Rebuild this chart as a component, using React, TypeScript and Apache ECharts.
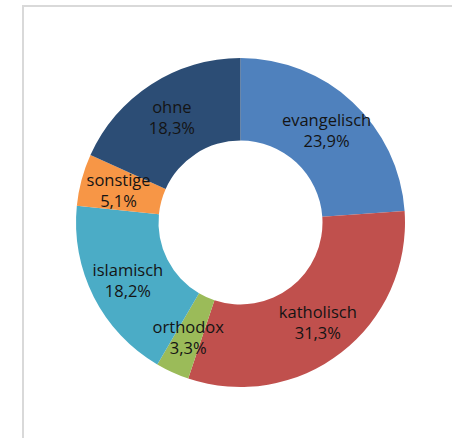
import React, { useEffect, useRef } from "react";
import * as echarts from "echarts";

const categories = ["evangelisch", "katholisch", "orthodox", "islamisch", "sonstige", "ohne"];
const values = [23.9, 31.3, 3.3, 18.2, 5.1, 18.3];
const colors = ["#4F81BD", "#C0504D", "#9BBB59", "#4BACC6", "#F79646", "#2C4D75"];

export default function App() {
  const ref = useRef<HTMLDivElement>(null);
  useEffect(() => {
    if (!ref.current) return;
    const chart = echarts.init(ref.current, null, { renderer: "svg" });
    chart.setOption({
      animation: false,
      backgroundColor: "#ffffff",
      graphic: [
        { type: "line", shape: { x1: 22, y1: 6, x2: 452, y2: 6 }, style: { stroke: "#d9d9d9", lineWidth: 2 } },
        { type: "line", shape: { x1: 23, y1: 5, x2: 23, y2: 438 }, style: { stroke: "#d9d9d9", lineWidth: 2 } },
      ],
      series: [
        {
          type: "pie",
          center: [240.5, 222.5],
          radius: [82, 164.5],
          startAngle: 90,
          clockwise: true,
          avoidLabelOverlap: false,
          itemStyle: { borderWidth: 0 },
          label: {
            show: true,
            position: "inside",
            color: "#141414",
            fontFamily: "Open Sans",
            fontSize: 16.5,
            lineHeight: 21,
            formatter: (p: any) => `${p.name}\n${p.value.toFixed(1).replace(".", ",")}%`,
          },
          labelLine: { show: false },
          data: categories.map((c, i) => ({ name: c, value: values[i], itemStyle: { color: colors[i] } })),
        },
      ],
    });
    return () => chart.dispose();
  }, []);
  return <div ref={ref} style={{ position: "fixed", left: 0, top: 0, width: 452, height: 438 }} />;
}
